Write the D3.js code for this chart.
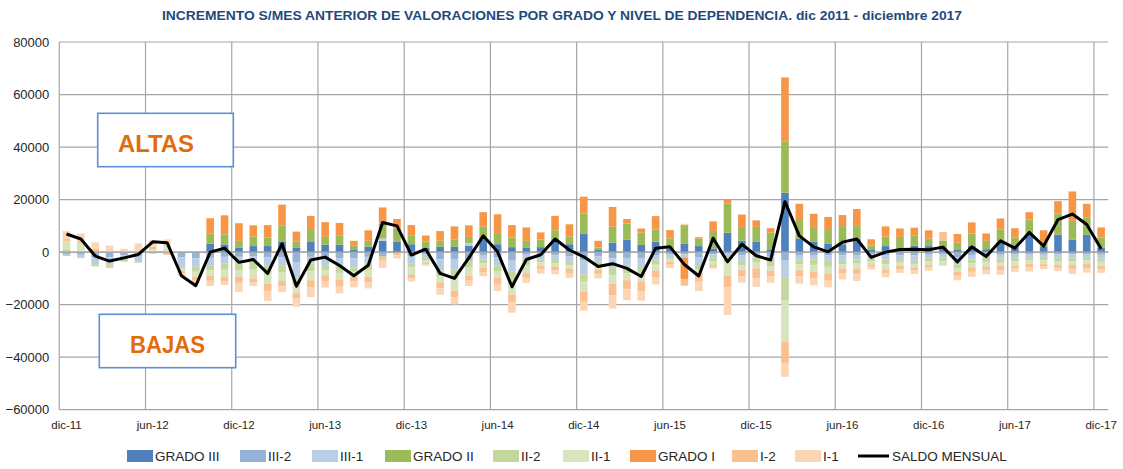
<!DOCTYPE html>
<html>
<head>
<meta charset="utf-8">
<script src="https://cdn.jsdelivr.net/npm/d3@7"></script>
<style>
  html, body { margin: 0; padding: 0; background: #fff; }
  svg { display: block; font-family: "Liberation Sans", Arial, sans-serif; }
</style>
</head>
<body>
<svg id="chart" width="1123" height="469"></svg>
<script>
// ---------------- DATA ----------------
const months = ["dic-11","ene-12","feb-12","mar-12","abr-12","may-12","jun-12","jul-12","ago-12","sep-12","oct-12","nov-12",
  "dic-12","ene-13","feb-13","mar-13","abr-13","may-13","jun-13","jul-13","ago-13","sep-13","oct-13","nov-13",
  "dic-13","ene-14","feb-14","mar-14","abr-14","may-14","jun-14","jul-14","ago-14","sep-14","oct-14","nov-14",
  "dic-14","ene-15","feb-15","mar-15","abr-15","may-15","jun-15","jul-15","ago-15","sep-15","oct-15","nov-15",
  "dic-15","ene-16","feb-16","mar-16","abr-16","may-16","jun-16","jul-16","ago-16","sep-16","oct-16","nov-16",
  "dic-16","ene-17","feb-17","mar-17","abr-17","may-17","jun-17","jul-17","ago-17","sep-17","oct-17","nov-17","dic-17"];

const seriesNames = ["GRADO III","III-2","III-1","GRADO II","II-2","II-1","GRADO I","I-2","I-1"];

const gradoIII = [0,0,0,0,0,0,0,0,0,0,3200,2900,
  1600,2300,2300,4100,1600,4100,2800,2800,800,2000,4300,3900,
  3000,1600,2000,2000,2500,5500,3000,1900,1600,1900,4200,3000,
  7100,800,3600,4700,2700,3900,1400,3300,2300,1400,7400,4300,
  3900,800,22600,5200,3900,3300,3000,5200,800,2300,1400,2500,
  2300,1700,800,2500,1100,3900,1800,7100,2000,6700,4800,6700,1700];
const iii2 = [-700,-1000,-2000,-2000,-1200,-1400,-300,0,-2000,-2400,-2200,-1800,
  -1800,-1500,-2000,-2000,-4000,-1800,-2000,-2300,-2300,-1800,-1500,0,
  -1500,-900,-2800,-2600,-3000,-1100,-2000,-3000,-1000,-1100,-1200,-1500,
  -3200,-1500,-2400,-2200,-2200,-1100,-800,-800,-2100,-800,-600,-1300,
  -800,-1500,-3000,-1100,-1100,-1300,-1300,-1100,-1000,-1100,-1200,-1300,
  -1000,-800,-1900,-1100,-800,-1000,-800,-800,-700,-800,-800,-800,-1000];
const iii1 = [-800,-1200,-2600,-2600,-1800,-2000,-300,0,-3600,-3200,-3000,-2500,
  -2500,-2200,-3000,-3000,-6000,-2500,-3000,-3300,-3500,-2500,900,0,
  -2800,-1300,-4100,-4000,1000,-1700,-3000,-4500,-1400,-1700,-1800,-2200,
  -5300,-2200,-3600,-3400,-3400,-1700,-1200,-1400,-3200,-1200,-900,-2000,
  -1200,-2200,-6600,-1700,-1700,-2000,-2000,-1700,-1400,-1700,-1800,-2000,
  -1400,-1200,-2800,-1700,-1200,-1400,-1200,-1200,-1100,-1200,-1200,-1200,-1400];
const gradoII = [0,0,0,0,0,0,0,0,0,0,3900,3900,
  2700,3600,3200,6100,2400,4700,3000,3600,1600,2300,5700,5000,
  3200,2400,2300,2800,2300,4300,4300,3700,2700,2900,4100,3000,
  7600,1000,6100,6200,4800,4700,3800,7000,2900,6700,11200,5300,
  5700,6600,19400,7000,5700,5100,6900,4700,1700,3600,4400,3800,
  2800,2700,2800,4600,3200,4700,3700,5300,1300,8000,7100,6400,3800];
const ii2 = [800,500,-800,-800,-600,-600,0,0,-700,-1900,-1700,-2400,
  -2500,-3000,-3300,-2800,-2700,-3000,-1800,-2300,-1700,-2400,-800,0,
  -1500,-800,-2200,-3800,-2900,-1500,-2200,-4000,-2600,-1100,-1200,-1300,
  -2800,-1400,-2800,-2400,-2700,-2000,-800,0,-1200,-1400,-2500,-1700,
  -2000,-1600,-8900,-1900,-2200,-2300,-1400,-1600,-1100,-1800,-1000,-1200,
  -1200,-1500,-1300,-1400,-1700,-1400,-1500,-1200,-1300,-1400,-1400,-1200,-1300];
const ii1 = [3400,2800,0,0,0,0,1000,2300,-800,-1900,-2100,-2800,
  -2600,-3300,-3700,-3200,-3000,-3400,-2000,-2500,-1900,-2700,0,0,
  -2900,-1000,-2500,-4300,-3200,-1700,-2500,-4600,-3000,-1300,-1300,-1400,
  -3800,-1500,-3200,-2700,-3000,-2300,-800,0,-1300,-1500,-5100,-1900,
  -2200,-1800,-15700,-2200,-2500,-2500,-1500,-1800,-1200,-2000,-1200,-1300,
  -1300,-1700,-1500,-1600,-1900,-1500,-1700,-1300,-1500,-1500,-1500,-1300,-1500];
const gradoI = [0,0,0,0,0,0,0,0,0,0,5800,7200,
  6700,4300,4800,7900,3800,5000,5600,4700,1900,4000,6100,3700,
  4100,2300,3700,5000,4400,5400,7100,4700,5100,2700,5500,4600,
  6400,2500,7500,1700,1500,5100,3200,-8000,500,3600,1500,4700,
  2500,1700,24500,6200,5000,5000,4200,6500,2400,3900,3200,3000,
  3200,0,3300,4200,2800,4200,3600,2800,5000,4700,11200,5300,3900];
const i2 = [1000,800,1200,-600,0,0,1000,-1000,-1000,-1200,-1900,-1500,
  -2300,-1400,-3000,-2000,-2000,-2600,-2200,-2500,-1800,-2000,-1000,-1200,
  -1200,-600,-2200,-2500,-1800,-1600,-2400,-3000,-1800,-1400,-1400,-1600,
  -3800,-1700,-4500,-3500,-3500,-2500,-1200,-2600,-3500,-700,-4400,-2300,
  -3800,-2200,-8000,-2300,-2400,-2500,-2000,-2300,-900,-1400,-1300,-1200,
  -1000,3200,-1500,-1700,-1300,-1600,-1100,-1400,-900,-1100,-1600,-1600,-1300];
const i1 = [2800,3000,2500,2500,1300,3300,2500,2500,-900,-1300,-2000,-1500,
  -3400,-1500,-3600,-2200,-3100,-3800,-2500,-2800,-2200,-2400,-2700,-1200,
  -1300,-600,-2400,-2700,-2000,-1600,-2700,-4000,-1900,-1600,-1500,-1800,
  -3400,-1700,-5000,-4100,-3700,-2700,-1300,500,-3500,-700,-10400,-2400,
  -3200,-2400,-5300,-2800,-2700,-2800,-2200,-2500,-1000,-1600,-1400,-1300,
  -1200,0,-1700,-1900,-1500,-1700,-1200,-1500,-1000,-1200,-1800,-1700,-1400];
const saldo = [6900,5000,-1500,-3400,-2200,-900,3900,3600,-9000,-12800,0,1500,
  -3900,-2800,-8100,3200,-13000,-3000,-1900,-5100,-9000,-5000,11300,10000,
  -1100,1100,-8100,-10000,-2200,6200,100,-13200,-2800,-1000,5000,800,
  -1800,-5500,-4400,-6200,-9300,1500,2000,-4700,-9100,5300,-3700,3000,
  -1400,-3000,19200,6200,2000,100,3800,5000,-2000,0,1000,1100,
  900,1900,-3700,2000,-1700,4300,1500,7500,2300,12400,14500,10500,1300];

const yTickValues = [-60000,-40000,-20000,0,20000,40000,60000,80000];
const xTickLabels = ["dic-11","jun-12","dic-12","jun-13","dic-13","jun-14","dic-14","jun-15","dic-15","jun-16","dic-16","jun-17","dic-17"];
const titleText = "INCREMENTO S/MES ANTERIOR DE VALORACIONES POR GRADO Y NIVEL DE DEPENDENCIA. dic 2011 -  diciembre 2017";
const lineName = "SALDO MENSUAL";

// ---------------- STYLE ----------------
const colors = ["#4f81bd","#95b3d7","#b9cde5","#9bbb59","#c3d69b","#d7e4bd","#f79646","#fac090","#fcd5b5"];
const seriesValues = [gradoIII, iii2, iii1, gradoII, ii2, ii1, gradoI, i2, i1];

const svg = d3.select("#chart");
const plot = {left: 59.3, right: 1108.3, top: 42, bottom: 409.7};

const table = months.map((m, i) => {
  const row = {idx: i};
  seriesNames.forEach((s, k) => row[s] = seriesValues[k][i]);
  return row;
});

const x = d3.scaleBand().domain(d3.range(months.length))
  .range([plot.left, plot.right]).paddingInner(0.47).paddingOuter(0.235);
const y = d3.scaleLinear().domain([-60000, 80000]).range([plot.bottom, plot.top]);

// title
svg.append("text")
  .attr("x", 562).attr("y", 20)
  .attr("text-anchor", "middle")
  .attr("font-size", 12.5).attr("font-weight", "bold")
  .attr("fill", "#1f497d")
  .attr("textLength", 800).attr("lengthAdjust", "spacingAndGlyphs")
  .text(titleText);

// horizontal gridlines
svg.append("g").selectAll("line").data(yTickValues).join("line")
  .attr("x1", plot.left).attr("x2", plot.right)
  .attr("y1", d => y(d)).attr("y2", d => y(d))
  .attr("stroke", "#a6a6a6").attr("stroke-width", 1.2);

// vertical gridlines (category boundaries at labelled months)
const step = x.step();
const edge = i => x(i) - step * x.paddingInner() / 2;
svg.append("g").selectAll("line").data(d3.range(0, months.length, 6)).join("line")
  .attr("x1", d => edge(d)).attr("x2", d => edge(d))
  .attr("y1", plot.top).attr("y2", plot.bottom)
  .attr("stroke", "#a6a6a6").attr("stroke-width", 1.2);

// ALTAS / BAJAS boxes
const boxes = [
  {t: "ALTAS", x: 97.7, y: 113.3, w: 135.6, h: 53.4, tx: 156, ty: 152, tl: 76},
  {t: "BAJAS", x: 99.3, y: 314.3, w: 136.4, h: 53.4, tx: 167.5, ty: 353, tl: 75}
];
const bg = svg.append("g");
boxes.forEach(b => {
  bg.append("rect").attr("x", b.x).attr("y", b.y).attr("width", b.w).attr("height", b.h)
    .attr("fill", "#fff").attr("stroke", "#5b8fd6").attr("stroke-width", 1.6);
  bg.append("text").attr("x", b.tx).attr("y", b.ty).attr("text-anchor", "middle")
    .attr("font-size", 23).attr("font-weight", "bold").attr("fill", "#e36c0a")
    .attr("textLength", b.tl).attr("lengthAdjust", "spacingAndGlyphs")
    .text(b.t);
});

// stacked bars
const stack = d3.stack().keys(seriesNames).offset(d3.stackOffsetDiverging);
const layers = stack(table);
svg.append("g").selectAll("g").data(layers).join("g")
  .attr("fill", (d, k) => colors[k])
  .selectAll("rect").data(d => d).join("rect")
  .attr("x", d => x(d.data.idx))
  .attr("width", x.bandwidth())
  .attr("y", d => y(Math.max(d[0], d[1])))
  .attr("height", d => Math.abs(y(d[0]) - y(d[1])));

// zero line on top
svg.append("line").attr("x1", plot.left).attr("x2", plot.right)
  .attr("y1", y(0)).attr("y2", y(0)).attr("stroke", "#a6a6a6").attr("stroke-width", 1.2);

// saldo line
const line = d3.line().x((d, i) => x(i) + x.bandwidth() / 2).y(d => y(d));
svg.append("path").datum(saldo)
  .attr("d", line).attr("fill", "none")
  .attr("stroke", "#000").attr("stroke-width", 3).attr("stroke-linejoin", "round");

// axes
const yAxis = d3.axisLeft(y).tickValues(yTickValues).tickFormat(d3.format("d")).tickSize(0).tickPadding(10);
const gy = svg.append("g").attr("transform", `translate(${plot.left},0)`).call(yAxis);
gy.select(".domain").remove();
gy.selectAll("text").attr("font-size", 13).attr("fill", "#262626").attr("font-family", "Liberation Sans, Arial, sans-serif");

const xAxis = d3.axisBottom(x).tickValues(d3.range(0, months.length, 6))
  .tickFormat((d, j) => xTickLabels[j]).tickSize(0).tickPadding(11);
const gx = svg.append("g").attr("transform", `translate(0,${plot.bottom})`).call(xAxis);
gx.select(".domain").remove();
gx.selectAll("text").attr("font-size", 11.5).attr("fill", "#262626").attr("font-family", "Liberation Sans, Arial, sans-serif");

// legend
const legendX = [127, 240, 312, 385, 493, 563, 630, 732, 795];
const lg = svg.append("g");
seriesNames.forEach((s, k) => {
  lg.append("rect").attr("x", legendX[k]).attr("y", 450).attr("width", 26).attr("height", 12).attr("fill", colors[k]);
  lg.append("text").attr("x", legendX[k] + 28).attr("y", 461).attr("font-size", 13.5)
    .attr("fill", "#262626").text(s);
});
lg.append("line").attr("x1", 858).attr("x2", 889).attr("y1", 456).attr("y2", 456)
  .attr("stroke", "#000").attr("stroke-width", 3);
lg.append("text").attr("x", 892).attr("y", 461).attr("font-size", 13.5).attr("fill", "#262626").text(lineName);
</script>
</body>
</html>
